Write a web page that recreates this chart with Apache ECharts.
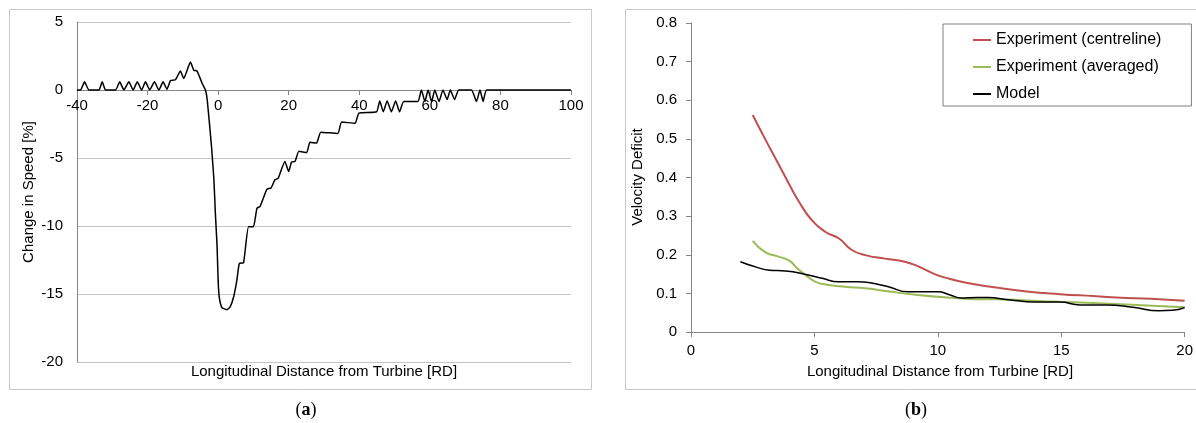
<!DOCTYPE html>
<html>
<head>
<meta charset="utf-8">
<script src="https://cdn.jsdelivr.net/npm/echarts@6/dist/echarts.min.js"></script>
<style>
  html, body { margin: 0; padding: 0; background: #fff; }
  #chart { width: 1196px; height: 423px; }
</style>
</head>
<body>
<div id="chart"></div>
<script>
// (a) change in wind speed along the turbine row
const speedDistance = [-40, -39, -37.85, -36.6, -33.8, -32.85, -31.9, -29.1, -27.9, -26.7,
  -25.3, -24.1, -22.9, -21.7, -20.6, -19.4, -18.05, -16.8, -15.6, -14.5,
  -13.5, -12.1, -10.7, -9.75, -7.85, -6.9, -6.0, -4.55, -3.6, -3.1,
  -1.9, -1.2, -0.8, -0.3, 0, 0.3, 1.05, 2.5, 3.4, 4.4,
  5.3, 6.0, 7.2, 8.6, 10, 11.0, 11.9, 13.8, 15, 16.1,
  17, 18.9, 20, 20.8, 21.8, 22.9, 25.1, 26, 27.9, 29.1,
  33.9, 35, 38.8, 39.9, 44.9, 45.8, 46.8, 47.9, 49.1, 50.3,
  51.4, 52.6, 56.6, 57.6, 58.6, 59.5, 60.5, 61.4, 62.6, 63.7,
  64.9, 65.8, 67.0, 68.2, 71.8, 73.2, 74.2, 75.1, 76.1, 100];
const speedChange = [0, 0, 0.6, 0, 0, 0.6, 0, 0, 0.6, 0,
  0.6, 0, 0.6, 0, 0.6, 0, 0.6, 0, 0.6, 0.05,
  0.7, 0.75, 1.4, 0.85, 2.05, 1.45, 1.4, 0.5, 0, -0.7,
  -4.1, -6.6, -9.0, -11.5, -14, -15.2, -16.0, -16.15, -15.95, -15.2,
  -14.0, -12.75, -12.7, -10.05, -10.05, -8.7, -8.55, -7.3, -7.2, -6.6,
  -6.5, -5.25, -6.0, -5.3, -5.25, -4.5, -4.6, -3.85, -3.9, -3.1,
  -3.2, -2.35, -2.45, -1.7, -1.6, -0.8, -1.6, -0.8, -1.6, -0.8,
  -1.6, -0.85, -0.85, 0, -0.85, 0, -0.85, 0, -0.85, 0,
  -0.7, 0, -0.7, 0, 0, -0.85, 0, -0.85, 0, 0];

// (b) velocity deficit downstream of the turbine
const centrelineDistance = [2.5, 3, 3.5, 4, 4.35, 4.9, 5.45, 6, 6.5, 7.06, 7.86, 8.66,
  9.2, 9.87, 10.4, 11.2, 12.28, 13.6, 14.95, 16.3, 17.63, 18.97, 20];
const centrelineDeficit = [0.562, 0.50, 0.44, 0.38, 0.34, 0.289, 0.259, 0.242, 0.213, 0.199, 0.19, 0.182,
  0.17, 0.15, 0.139, 0.127, 0.116, 0.105, 0.098, 0.093, 0.088, 0.085, 0.081];

const averagedDistance = [2.5, 3, 3.55, 4, 4.3, 4.65, 5.05, 5.45, 6.25, 7.06, 8.12, 9.2,
  10.27, 11.6, 12.3, 14.95, 17.63, 20];
const averagedDeficit = [0.236, 0.207, 0.195, 0.184, 0.165, 0.147, 0.13, 0.123, 0.117, 0.113, 0.104, 0.096,
  0.090, 0.085, 0.0845, 0.078, 0.0715, 0.064];

const modelDistance = [2, 2.5, 3.17, 3.84, 4.65, 5.31, 5.98, 6.79, 7.19, 8, 8.8, 9.33,
  10, 10.5, 10.94, 11.6, 12.0, 12.94, 13.88, 14.95, 15.76, 16.83, 17.9, 18.97, 19.5, 20];
const modelDeficit = [0.182, 0.171, 0.160, 0.158, 0.149, 0.139, 0.130, 0.130, 0.128, 0.117, 0.104, 0.104,
  0.104, 0.096, 0.088, 0.089, 0.089, 0.083, 0.0775, 0.0775, 0.070, 0.070, 0.064, 0.055, 0.056, 0.063];

const seriesNames = ['Experiment (centreline)', 'Experiment (averaged)', 'Model'];
const seriesColors = ['#c0504d', '#9bbb59', '#000000'];

const zip = (xs, ys) => xs.map((x, i) => [x, ys[i]]);

const FONT = 'Liberation Sans, Arial, sans-serif';
const AXIS_GREY = '#868686';
const GRID_GREY = '#c4c4c4';
const FRAME_GREY = '#c8c8c8';

// left plot box; the distance axis is drawn across the 0 % line
const LEFT_TOP = 22, LEFT_BOTTOM = 362;
const Y_MIN = -20, Y_MAX = 5;
const zeroOffset = -(LEFT_BOTTOM - LEFT_TOP) * (0 - Y_MIN) / (Y_MAX - Y_MIN);

const chart = echarts.init(document.getElementById('chart'), null, { renderer: 'canvas' });

const labelStyle = { color: '#000', fontFamily: FONT, fontSize: 15 };

chart.setOption({
  animation: false,
  backgroundColor: '#fff',
  grid: [
    { left: 77, right: 1196 - 571, top: LEFT_TOP, bottom: 423 - LEFT_BOTTOM },
    { left: 691, right: 1196 - 1189, top: 23, bottom: 423 - 332 }
  ],
  xAxis: [
    {
      gridIndex: 0, type: 'value', min: -40, max: 100, interval: 20,
      position: 'bottom', offset: zeroOffset,
      axisLine: { onZero: false, lineStyle: { color: AXIS_GREY, width: 1 } },
      axisTick: { show: true, length: 5, lineStyle: { color: AXIS_GREY } },
      axisLabel: Object.assign({ margin: 8 }, labelStyle),
      splitLine: { show: false }
    },
    {
      gridIndex: 1, type: 'value', min: 0, max: 20, interval: 5,
      axisLine: { onZero: false, lineStyle: { color: AXIS_GREY, width: 1 } },
      axisTick: { show: true, length: 5, lineStyle: { color: AXIS_GREY } },
      axisLabel: Object.assign({ margin: 11 }, labelStyle),
      splitLine: { show: false }
    }
  ],
  yAxis: [
    {
      gridIndex: 0, type: 'value', min: Y_MIN, max: Y_MAX, interval: 5,
      axisLine: { show: true, onZero: false, lineStyle: { color: AXIS_GREY, width: 1 } },
      axisTick: { show: false },
      axisLabel: Object.assign({ margin: 14 }, labelStyle),
      splitLine: { show: true, lineStyle: { color: GRID_GREY, width: 1 } }
    },
    {
      gridIndex: 1, type: 'value', min: 0, max: 0.8, interval: 0.1,
      axisLine: { show: true, onZero: false, lineStyle: { color: AXIS_GREY, width: 1 } },
      axisTick: { show: true, length: 5, lineStyle: { color: AXIS_GREY } },
      axisLabel: Object.assign({ margin: 14 }, labelStyle),
      splitLine: { show: false }
    }
  ],
  legend: {
    data: seriesNames,
    orient: 'vertical',
    left: 943, top: 24,
    padding: [8, 30, 4, 30],
    itemGap: 11,
    itemWidth: 18, itemHeight: 2,
    icon: 'rect',
    borderColor: '#7f7f7f', borderWidth: 1,
    backgroundColor: '#fff',
    textStyle: { color: '#000', fontFamily: FONT, fontSize: 16, lineHeight: 16 }
  },
  series: [
    {
      name: 'Change in Speed', type: 'line', xAxisIndex: 0, yAxisIndex: 0,
      data: zip(speedDistance, speedChange), smooth: 0.15, showSymbol: false,
      lineStyle: { color: '#000', width: 1.5 }, itemStyle: { color: '#000' }, z: 5
    },
    {
      name: seriesNames[0], type: 'line', xAxisIndex: 1, yAxisIndex: 1,
      data: zip(centrelineDistance, centrelineDeficit), smooth: 0.5, showSymbol: false,
      lineStyle: { color: seriesColors[0], width: 2 }, itemStyle: { color: seriesColors[0] }
    },
    {
      name: seriesNames[1], type: 'line', xAxisIndex: 1, yAxisIndex: 1,
      data: zip(averagedDistance, averagedDeficit), smooth: 0.5, showSymbol: false,
      lineStyle: { color: seriesColors[1], width: 2 }, itemStyle: { color: seriesColors[1] }
    },
    {
      name: seriesNames[2], type: 'line', xAxisIndex: 1, yAxisIndex: 1,
      data: zip(modelDistance, modelDeficit), smooth: 0.5, showSymbol: false,
      lineStyle: { color: seriesColors[2], width: 1.5 }, itemStyle: { color: seriesColors[2] }, z: 4
    }
  ],
  graphic: [
    // panel frames
    { type: 'rect', z: -10, silent: true, shape: { x: 9.5, y: 9.5, width: 582, height: 380 },
      style: { fill: '#fff', stroke: FRAME_GREY, lineWidth: 1 } },
    { type: 'rect', z: -10, silent: true, shape: { x: 625.5, y: 9.5, width: 600, height: 380 },
      style: { fill: '#fff', stroke: FRAME_GREY, lineWidth: 1 } },
    // axis titles
    { type: 'text', x: 324, y: 372, silent: true,
      style: { text: 'Longitudinal Distance from Turbine [RD]', fill: '#000', font: '15px ' + FONT,
        textAlign: 'center', textVerticalAlign: 'middle' } },
    { type: 'text', x: 940, y: 372, silent: true,
      style: { text: 'Longitudinal Distance from Turbine [RD]', fill: '#000', font: '15px ' + FONT,
        textAlign: 'center', textVerticalAlign: 'middle' } },
    { type: 'text', x: 29, y: 192, rotation: Math.PI / 2, silent: true,
      style: { text: 'Change in Speed [%]', fill: '#000', font: '15px ' + FONT,
        textAlign: 'center', textVerticalAlign: 'middle' } },
    { type: 'text', x: 638, y: 177, rotation: Math.PI / 2, silent: true,
      style: { text: 'Velocity Deficit', fill: '#000', font: '15px ' + FONT,
        textAlign: 'center', textVerticalAlign: 'middle' } },
    // panel captions
    { type: 'text', x: 306, y: 410, silent: true,
      style: { text: '({b|a})', fill: '#000', font: '18px Liberation Serif, serif',
        textAlign: 'center', textVerticalAlign: 'middle',
        rich: { b: { fontWeight: 'bold', fontSize: 18, fontFamily: 'Liberation Serif, serif' } } } },
    { type: 'text', x: 916, y: 410, silent: true,
      style: { text: '({b|b})', fill: '#000', font: '18px Liberation Serif, serif',
        textAlign: 'center', textVerticalAlign: 'middle',
        rich: { b: { fontWeight: 'bold', fontSize: 18, fontFamily: 'Liberation Serif, serif' } } } }
  ]
});
</script>
</body>
</html>
